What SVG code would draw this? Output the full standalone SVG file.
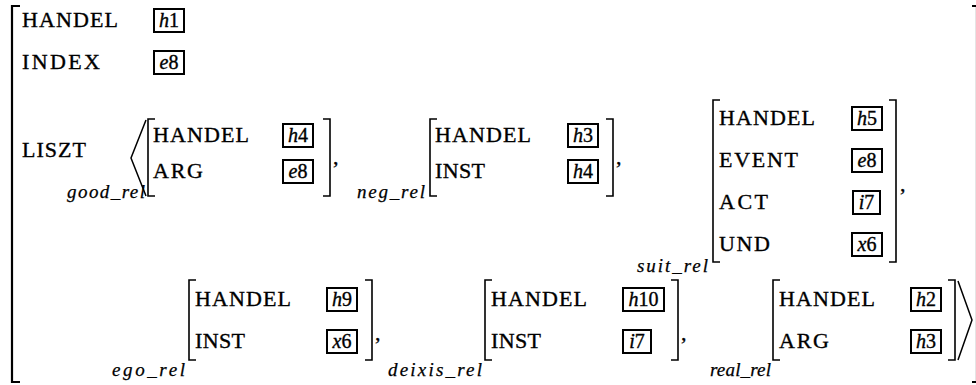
<svg xmlns="http://www.w3.org/2000/svg" width="976" height="385" viewBox="0 0 976 385" font-family="'Liberation Serif', 'DejaVu Serif', 'Times New Roman', serif">
<style>
text{font-family:'Liberation Serif','DejaVu Serif','Times New Roman',serif;fill:#000;stroke:#000;stroke-width:0.35}
.a{font-size:22px}
.v{font-size:20px;text-anchor:middle}
.i{font-style:italic}
.l{font-size:19px;font-style:italic;stroke-width:0.25}
.c{font-size:22px}
.bx{fill:none;stroke:#000;stroke-width:2}
.br{fill:none;stroke:#000;stroke-width:1.6}
.ob{fill:none;stroke:#000;stroke-width:2.2}
.ang{fill:none;stroke:#000;stroke-width:1.5}
</style>
<rect width="976" height="385" fill="#fff"/>

<g id="outer">
<path class="ob" d="M20,6 H12 V382 H20"/>
<path class="ob" d="M972,6 H977 V382 H972"/>
<text class="a" x="22" y="27" textLength="96" lengthAdjust="spacing">HANDEL</text>
<rect class="bx" x="154" y="9" width="30" height="23"/>
<text class="v" x="169" y="27"><tspan class="i">h</tspan>1</text>
<text class="a" x="22" y="69" textLength="78" lengthAdjust="spacing">INDEX</text>
<rect class="bx" x="154" y="51" width="30" height="23"/>
<text class="v" x="169" y="69"><tspan class="i">e</tspan>8</text>
<text class="a" x="22" y="157" textLength="64" lengthAdjust="spacing">LISZT</text>
<path class="ang" d="M146,120 L131,158 L146,196"/>
<path class="ang" d="M958,281 L972,320 L958,360"/>
</g>

<g id="good_rel">
<text class="l" x="67" y="198" textLength="78" lengthAdjust="spacing">good_rel</text>
<path class="br" d="M155,119 H148 V196 H155"/>
<text class="a" x="153" y="142" textLength="96" lengthAdjust="spacing">HANDEL</text>
<rect class="bx" x="283" y="124" width="30" height="23"/>
<text class="v" x="298" y="142"><tspan class="i">h</tspan>4</text>
<text class="a" x="153" y="178" textLength="50" lengthAdjust="spacing">ARG</text>
<rect class="bx" x="283" y="160" width="30" height="23"/>
<text class="v" x="298" y="178"><tspan class="i">e</tspan>8</text>
<path class="br" d="M323,119 H330 V196 H323"/>
<text class="c" x="333" y="164">,</text>
</g>

<g id="neg_rel">
<text class="l" x="357" y="198" textLength="68" lengthAdjust="spacing">neg_rel</text>
<path class="br" d="M437,119 H430 V196 H437"/>
<text class="a" x="435" y="142" textLength="96" lengthAdjust="spacing">HANDEL</text>
<rect class="bx" x="568" y="124" width="30" height="23"/>
<text class="v" x="583" y="142"><tspan class="i">h</tspan>3</text>
<text class="a" x="435" y="178" textLength="50" lengthAdjust="spacing">INST</text>
<rect class="bx" x="568" y="160" width="30" height="23"/>
<text class="v" x="583" y="178"><tspan class="i">h</tspan>4</text>
<path class="br" d="M606,119 H613 V196 H606"/>
<text class="c" x="616" y="164">,</text>
</g>

<g id="suit_rel">
<text class="l" x="637" y="272" textLength="71" lengthAdjust="spacing">suit_rel</text>
<path class="br" d="M720,100 H713 V262 H720"/>
<text class="a" x="719" y="125" textLength="96" lengthAdjust="spacing">HANDEL</text>
<rect class="bx" x="852" y="107" width="30" height="23"/>
<text class="v" x="867" y="125"><tspan class="i">h</tspan>5</text>
<text class="a" x="719" y="167" textLength="79" lengthAdjust="spacing">EVENT</text>
<rect class="bx" x="852" y="149" width="30" height="23"/>
<text class="v" x="867" y="167"><tspan class="i">e</tspan>8</text>
<text class="a" x="719" y="209" textLength="49" lengthAdjust="spacing">ACT</text>
<rect class="bx" x="853" y="191" width="27" height="23"/>
<text class="v" x="866.5" y="209"><tspan class="i">i</tspan>7</text>
<text class="a" x="719" y="251" textLength="51" lengthAdjust="spacing">UND</text>
<rect class="bx" x="852" y="233" width="30" height="23"/>
<text class="v" x="867" y="251"><tspan class="i">x</tspan>6</text>
<path class="br" d="M889,100 H896 V262 H889"/>
<text class="c" x="900" y="191">,</text>
</g>

<g id="ego_rel">
<text class="l" x="112" y="376" textLength="73" lengthAdjust="spacing">ego_rel</text>
<path class="br" d="M196,280 H189 V360 H196"/>
<text class="a" x="195" y="306" textLength="96" lengthAdjust="spacing">HANDEL</text>
<rect class="bx" x="327" y="288" width="30" height="23"/>
<text class="v" x="342" y="306"><tspan class="i">h</tspan>9</text>
<text class="a" x="195" y="348" textLength="50" lengthAdjust="spacing">INST</text>
<rect class="bx" x="327" y="330" width="30" height="23"/>
<text class="v" x="342" y="348"><tspan class="i">x</tspan>6</text>
<path class="br" d="M365,280 H372 V360 H365"/>
<text class="c" x="375" y="340">,</text>
</g>

<g id="deixis_rel">
<text class="l" x="388" y="376" textLength="94" lengthAdjust="spacing">deixis_rel</text>
<path class="br" d="M492,280 H485 V360 H492"/>
<text class="a" x="491" y="306" textLength="96" lengthAdjust="spacing">HANDEL</text>
<rect class="bx" x="623" y="288" width="41" height="23"/>
<text class="v" x="643.5" y="306"><tspan class="i">h</tspan>10</text>
<text class="a" x="491" y="348" textLength="50" lengthAdjust="spacing">INST</text>
<rect class="bx" x="623" y="330" width="28" height="23"/>
<text class="v" x="637" y="348"><tspan class="i">i</tspan>7</text>
<path class="br" d="M671,280 H678 V360 H671"/>
<text class="c" x="681" y="340">,</text>
</g>

<g id="real_rel">
<text class="l" x="710" y="376" textLength="61" lengthAdjust="spacing">real_rel</text>
<path class="br" d="M780,280 H773 V360 H780"/>
<text class="a" x="779" y="306" textLength="96" lengthAdjust="spacing">HANDEL</text>
<rect class="bx" x="911" y="288" width="30" height="23"/>
<text class="v" x="926" y="306"><tspan class="i">h</tspan>2</text>
<text class="a" x="779" y="348" textLength="50" lengthAdjust="spacing">ARG</text>
<rect class="bx" x="911" y="330" width="30" height="23"/>
<text class="v" x="926" y="348"><tspan class="i">h</tspan>3</text>
<path class="br" d="M948,280 H955 V360 H948"/>
</g>
</svg>
